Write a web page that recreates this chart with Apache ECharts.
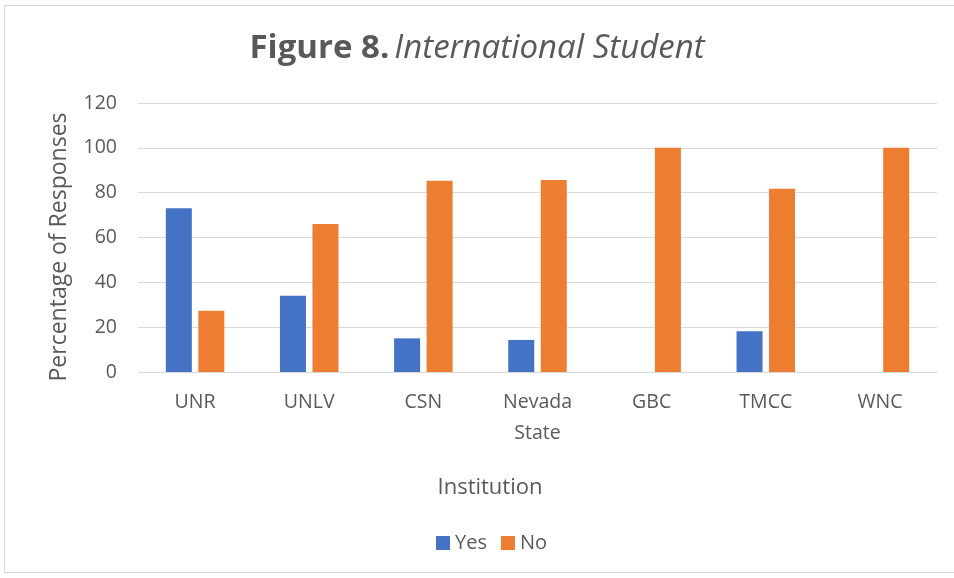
<!DOCTYPE html>
<html>
<head>
<meta charset="utf-8">
<script src="https://cdn.jsdelivr.net/npm/echarts@6/dist/echarts.min.js"></script>
<style>
html,body{margin:0;padding:0;background:#fff;}
#frame{position:absolute;left:4px;top:5px;width:960px;height:568px;border:1px solid #d9d9d9;box-sizing:border-box;}
#chart{width:954px;height:578px;position:absolute;left:0;top:0;}
</style>
</head>
<body>
<div id="frame"></div>
<div id="chart"></div>
<script>
// 数据
var categories = ['UNR', 'UNLV', 'CSN', 'Nevada\nState', 'GBC', 'TMCC', 'WNC'];
var yesValues = [73, 34, 15, 14.3, 0, 18.2, 0];
var noValues = [27.3, 66, 85.3, 85.7, 100, 81.7, 100];
var yTicks = {min: 0, max: 120, interval: 20};

var font = '"Open Sans", Lato, sans-serif';
var grey = '#595959';
var chart = echarts.init(document.getElementById('chart'));
var option = {
	animation: false,
	title: {
		text: '{b|Figure 8.} {i|International Student}',
		left: 'center',
		top: 32,
		padding: [0, 0, 0, 20],
		textStyle: {
			rich: {
				b: {fontFamily: font, fontSize: 33, fontWeight: 'bold', color: grey},
				i: {fontFamily: font, fontSize: 33, fontWeight: 'normal', fontStyle: 'italic', color: grey}
			}
		}
	},
	legend: {
		data: ['Yes', 'No'],
		top: 528,
		left: 431,
		itemWidth: 14,
		itemHeight: 14,
		itemGap: 14,
		icon: 'rect',
		textStyle: {fontFamily: font, fontSize: 20, color: grey}
	},
	// 坐标轴标题
	graphic: [{
		type: 'text',
		x: 490,
		y: 488,
		style: {text: 'Institution', fontFamily: font, fontSize: 22, fill: grey, align: 'center', verticalAlign: 'middle'}
	}, {
		type: 'text',
		x: 59,
		y: 247,
		rotation: Math.PI / 2,
		style: {text: 'Percentage of Responses', fontFamily: font, fontSize: 23, fill: grey, align: 'center', verticalAlign: 'middle'}
	}],
	grid: {left: 138, right: 17, top: 103, bottom: 206},
	xAxis: [{
		type: 'category',
		data: categories,
		axisLine: {lineStyle: {color: '#d9d9d9', width: 1}},
		axisTick: {show: false},
		axisLabel: {fontFamily: font, fontSize: 19.5, color: grey, margin: 15, lineHeight: 31}
	}],
	yAxis: [{
		type: 'value',
		min: yTicks.min,
		max: yTicks.max,
		interval: yTicks.interval,
		axisLine: {show: false},
		axisTick: {show: false},
		axisLabel: {fontFamily: font, fontSize: 19.5, color: grey, margin: 21},
		splitLine: {lineStyle: {color: '#d9d9d9', width: 1}}
	}],
	series: [{
		name: 'Yes',
		type: 'bar',
		data: yesValues,
		barWidth: 26,
		barGap: '25%',
		itemStyle: {color: '#4472c4'}
	}, {
		name: 'No',
		type: 'bar',
		data: noValues,
		barWidth: 26,
		itemStyle: {color: '#ed7d31'}
	}]
};
chart.setOption(option);
</script>
</body>
</html>
